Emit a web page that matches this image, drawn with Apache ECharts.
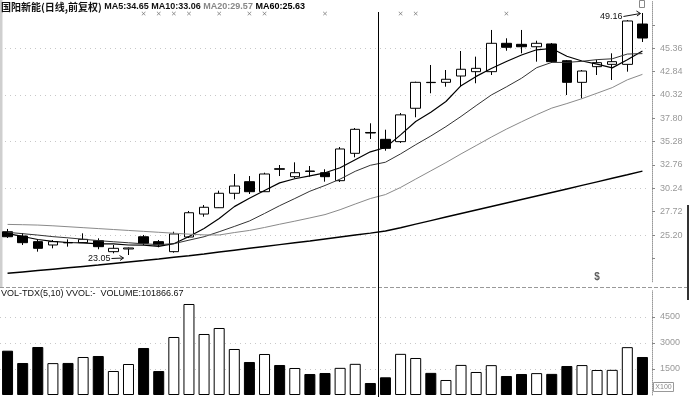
<!DOCTYPE html>
<html><head><meta charset="utf-8">
<script src="https://cdn.jsdelivr.net/npm/echarts@6/dist/echarts.min.js"></script>
<style>html,body{margin:0;padding:0;background:#fff;}#c{width:690px;height:397px;}</style>
</head><body><div id="c"></div>
<script>
// ---- data ----
const bars = ['01','02','03','04','05','06','07','08','09','10','11','12','13','14','15','16','17','18','19','20','21','22','23','24','25','26','27','28','29','30','31','32','33','34','35','36','37','38','39','40','41','42','43'];
const open  = [25.56,25.10,24.49,24.13,24.40,24.38,24.59,23.41,23.70,25.02,24.49,23.41,24.99,27.47,28.15,29.71,30.96,29.88,32.36,31.50,32.11,31.93,31.07,34.02,36.27,35.53,35.28,38.88,41.68,41.68,42.36,42.83,42.83,45.89,45.78,45.52,45.82,44.01,41.68,43.37,43.62,43.62,47.97];
const close = [25.02,24.38,23.77,24.49,24.36,24.74,23.95,23.77,23.81,24.31,24.13,25.32,27.61,28.20,29.71,30.49,29.88,31.79,32.30,31.93,32.07,31.50,34.49,36.61,36.21,34.56,38.17,41.68,41.65,42.01,43.09,43.19,45.89,45.46,45.52,45.89,43.91,41.68,42.90,43.80,43.91,48.30,46.46];
const low   = [24.89,24.13,23.41,23.77,23.95,24.35,23.67,23.23,23.05,24.13,23.88,23.30,24.89,27.18,28.12,29.06,29.63,29.85,31.57,31.33,31.50,30.96,30.93,33.59,35.57,34.30,35.14,37.91,40.50,41.21,41.21,41.58,42.47,45.09,44.81,43.91,43.77,40.31,39.96,42.47,41.93,42.83,46.03];
const high  = [25.86,25.42,24.67,24.67,24.74,25.39,24.85,24.13,23.86,25.21,24.67,25.56,27.80,28.44,29.99,31.79,31.57,31.93,32.76,33.05,32.65,32.30,34.70,36.75,37.26,36.57,38.37,41.75,43.55,43.01,45.06,44.45,47.33,46.43,47.33,46.17,45.92,44.09,43.01,44.09,44.81,48.40,49.16];
const ma5  = [25.35,25.05,24.72,24.52,24.40,24.35,24.26,24.26,24.13,24.12,23.99,24.27,25.04,25.91,26.99,28.27,29.18,30.01,30.83,31.28,31.59,31.92,32.46,33.32,34.18,34.65,36.01,37.45,38.45,39.61,41.32,42.32,43.17,43.93,44.63,45.19,45.33,44.49,43.98,43.64,43.24,44.12,45.07];
const ma10 = [25.50,25.35,25.20,25.03,24.90,24.75,24.60,24.48,24.37,24.26,24.17,24.27,24.65,25.02,25.56,26.13,26.72,27.53,28.37,29.14,29.93,30.55,31.24,32.08,32.73,33.06,33.96,34.95,35.89,36.90,38.00,39.17,40.31,41.19,42.12,43.26,43.83,43.83,43.95,44.13,44.22,44.73,44.78];
const ma20 = [26.35,26.32,26.28,26.20,26.10,26.00,25.90,25.80,25.70,25.60,25.50,25.40,25.30,25.22,25.21,25.47,25.70,26.02,26.37,26.70,27.05,27.41,27.94,28.55,29.14,29.57,30.34,31.24,32.13,33.02,33.96,34.86,35.77,36.63,37.42,38.19,38.90,39.39,39.92,40.51,41.11,41.95,42.54];
const ma60 = [21.07,21.22,21.37,21.52,21.67,21.82,21.97,22.13,22.29,22.45,22.62,22.80,22.98,23.17,23.37,23.57,23.77,23.97,24.17,24.37,24.57,24.78,24.99,25.20,25.41,25.63,26.00,26.38,26.76,27.14,27.52,27.90,28.28,28.66,29.04,29.42,29.80,30.18,30.56,30.94,31.32,31.70,32.10];
const volume = [254950,184160,276240,183500,184500,218690,224445,138120,178400,270485,137800,333790,523705,351055,385585,264730,189915,235955,172650,155385,120855,126610,156200,179300,69060,101866.67,236800,212935,127400,86325,173100,132365,171900,109345,120855,125900,121500,166895,172200,143875,144600,275400,218690];
const priceLabelRange = [25.20, 45.36];   // ticks that carry labels on the right axis
const topMarkBars = [10,11,12,13,15,17,18,22,27,28,34];   // small marks at the top row (bar numbers)
const signalBars = [{bar:40, text:'$'}];
const cursorBar = 26;   // bar selected by the cursor (title values)
const stockName = '国阳新能(日线,前复权)';
const volUnit = 'X100';

// ---- chart ----
const chart = echarts.init(document.getElementById('c'), null, {width:690, height:397});
const ci = cursorBar - 1;
const LAT = 'Liberation Sans, Arial, sans-serif';
const CJK = 'Noto Sans CJK SC, sans-serif';
const volData = volume.map((v, i) => close[i] >= open[i]
  ? {value: v, itemStyle: {color: '#fff', borderColor: '#000', borderWidth: 1}}
  : {value: v, itemStyle: {color: '#000', borderColor: '#000', borderWidth: 1}});

const xCat = (g) => ({type:'category', gridIndex:g, data:bars, boundaryGap:true,
  axisLine:{show:false}, axisTick:{show:false}, axisLabel:{show:false}, splitLine:{show:false}});

const option = {
  animation: false,
  backgroundColor: '#fff',
  textStyle: {fontFamily: LAT},
  title: [
    {left: 1, top: 1, padding: 0,
     text: '{a|' + stockName + '} {b|MA5:' + ma5[ci].toFixed(2) + '} {b|MA10:' + ma10[ci].toFixed(2) + '} {c|MA20:' + ma20[ci].toFixed(2) + '} {d|MA60:' + ma60[ci].toFixed(2) + '}',
     textStyle: {fontSize: 9, lineHeight: 12, rich: {
       a: {fontFamily: CJK, fontSize: 10, color: '#111', lineHeight: 12},
       b: {fontFamily: LAT, fontSize: 9, color: '#111', lineHeight: 12},
       c: {fontFamily: LAT, fontSize: 9, color: '#888', lineHeight: 12},
       d: {fontFamily: LAT, fontSize: 9, color: '#000', fontWeight: 'bold', lineHeight: 12}}}},
    {left: 1, top: 289, padding: 0,
     text: 'VOL-TDX(5,10) VVOL:-  VOLUME:' + volume[ci].toFixed(2),
     textStyle: {fontFamily: LAT, fontSize: 9, lineHeight: 10, color: '#111', fontWeight: 'normal'}}
  ],
  grid: [
    {left: -1, width: 651, top: 1.507, height: 280.28},
    {left: -1, width: 651, top: 290.74, height: 104.26}
  ],
  xAxis: [xCat(0), xCat(1)],
  yAxis: [
    {gridIndex: 0, type: 'value', position: 'right', offset: 2, min: 20.16, max: 50.40, interval: 2.52,
     axisLine: {show: true, lineStyle: {color: '#999', type: 'dotted', width: 1}},
     axisTick: {show: true, length: 3, lineStyle: {color: '#888'}},
     axisLabel: {color: '#999', fontSize: 9, margin: 8, showMinLabel: false, showMaxLabel: false,
                 formatter: v => (v < priceLabelRange[0] - 0.01 || v > priceLabelRange[1] + 0.01) ? '' : v.toFixed(2)},
     splitLine: {show: false}},
    {gridIndex: 0, type: 'value', position: 'right', min: 20.16, max: 50.40, interval: 5.04,
     axisLine: {show: false}, axisTick: {show: false}, axisLabel: {show: false},
     splitLine: {show: true, showMinLine: false, showMaxLine: false, lineStyle: {color: '#c8c8c8', type: [1, 4], width: 1}}},
    {gridIndex: 1, type: 'value', position: 'right', offset: 2, min: 0, max: 600000, interval: 150000,
     axisLine: {show: true, lineStyle: {color: '#999', type: 'dotted', width: 1}},
     axisTick: {show: true, length: 3, lineStyle: {color: '#888'}},
     axisLabel: {color: '#999', fontSize: 9, margin: 8, showMinLabel: false, showMaxLabel: false,
                 formatter: v => String(v / 100)},
     splitLine: {show: true, showMinLine: false, showMaxLine: false, lineStyle: {color: '#c8c8c8', type: [1, 4], width: 1}}}
  ],
  series: [
    {type: 'candlestick', xAxisIndex: 0, yAxisIndex: 0, barWidth: 10,
     data: bars.map((_, i) => [open[i], close[i], low[i], high[i]]),
     itemStyle: {color: '#fff', color0: '#000', borderColor: '#000', borderColor0: '#000', borderWidth: 1}, z: 2},
    {type: 'line', name: 'MA5', xAxisIndex: 0, yAxisIndex: 0, data: ma5, symbol: 'none', lineStyle: {color: '#000', width: 1.2}, z: 3},
    {type: 'line', name: 'MA10', xAxisIndex: 0, yAxisIndex: 0, data: ma10, symbol: 'none', lineStyle: {color: '#333', width: 1}, z: 3},
    {type: 'line', name: 'MA20', xAxisIndex: 0, yAxisIndex: 0, data: ma20, symbol: 'none', lineStyle: {color: '#8a8a8a', width: 1}, z: 3},
    {type: 'line', name: 'MA60', xAxisIndex: 0, yAxisIndex: 0, data: ma60, symbol: 'none', lineStyle: {color: '#000', width: 1.5}, z: 3},
    {type: 'bar', xAxisIndex: 1, yAxisIndex: 2, data: volData, barWidth: 11},
    {type: 'scatter', xAxisIndex: 0, yAxisIndex: 0, data: topMarkBars.map(b => [b - 1, 49.1]),
     symbol: 'path://M0,1L1,0L5,4L9,0L10,1L6,5L10,9L9,10L5,6L1,10L0,9L4,5Z', symbolSize: 4,
     itemStyle: {color: '#555'}, z: 4},
    {type: 'scatter', xAxisIndex: 0, yAxisIndex: 0, data: signalBars.map(s => [s.bar - 1, 20.6]),
     symbol: 'circle', symbolSize: 0,
     label: {show: true, position: 'inside', formatter: p => signalBars[p.dataIndex].text, fontSize: 10, fontWeight: 'bold', color: '#333'}, z: 4}
  ]
};
chart.setOption(option);

// annotations placed through the chart's own scales
const px = (i, v) => chart.convertToPixel({seriesIndex: 0}, [i, v]);
const hiIdx = high.indexOf(Math.max(...high));
const loIdx = low.indexOf(Math.min(...low));
const hp = px(hiIdx, high[hiIdx]);
const lp = px(loIdx, low[loIdx]);
const cx = Math.round((px(ci - 1, close[0])[0] + px(ci, close[0])[0]) / 2) + 0.5;
const arrow = (x1, y1, x2, y2) => [
  {type: 'polyline', shape: {points: [[x1, y1], [x2, y2]]}, style: {stroke: '#111', lineWidth: 1, fill: null}, z: 20},
  {type: 'polyline', shape: {points: [[x2 - 4, y2 - 2.5], [x2, y2], [x2 - 3.5, y2 + 2.5]]}, style: {stroke: '#111', lineWidth: 1, fill: null}, z: 20}
];
chart.setOption({graphic: [
  {type: 'rect', shape: {x: 0, y: 0, width: 2.5, height: 287}, style: {fill: '#cfcfcf'}, z: 1},
  {type: 'line', shape: {x1: 0, y1: 287.5, x2: 690, y2: 287.5}, style: {stroke: '#999', lineWidth: 1, lineDash: [4, 2]}, z: 10},
  {type: 'line', shape: {x1: 688, y1: 205, x2: 688, y2: 300}, style: {stroke: '#333', lineWidth: 2}, z: 10},
  {type: 'rect', shape: {x: 639.5, y: 0.5, width: 5, height: 7}, style: {fill: null, stroke: '#888', lineWidth: 1}, z: 10},
  {type: 'line', shape: {x1: cx, y1: 12, x2: cx, y2: 397}, style: {stroke: '#000', lineWidth: 1}, z: 30},
  {type: 'text', x: hp[0] - 20, y: hp[1] + 4, style: {text: high[hiIdx].toFixed(2), fontSize: 9, fontFamily: LAT, fill: '#111', align: 'right', verticalAlign: 'middle'}, z: 20},
  ...arrow(hp[0] - 19, hp[1] + 3.5, hp[0] - 2, hp[1] + 0.5),
  {type: 'text', x: lp[0] - 18, y: lp[1] + 3.5, style: {text: low[loIdx].toFixed(2), fontSize: 9, fontFamily: LAT, fill: '#111', align: 'right', verticalAlign: 'middle'}, z: 20},
  ...arrow(lp[0] - 17, lp[1] + 3.5, lp[0] - 5, lp[1] + 3),
  {type: 'rect', shape: {x: 653.5, y: 382.5, width: 20, height: 9}, style: {fill: '#fff', stroke: '#999', lineWidth: 1}, z: 20},
  {type: 'text', x: 663.5, y: 387.5, style: {text: volUnit, fontSize: 7, fontFamily: LAT, fill: '#888', align: 'center', verticalAlign: 'middle'}, z: 21}
]});
</script></body></html>
